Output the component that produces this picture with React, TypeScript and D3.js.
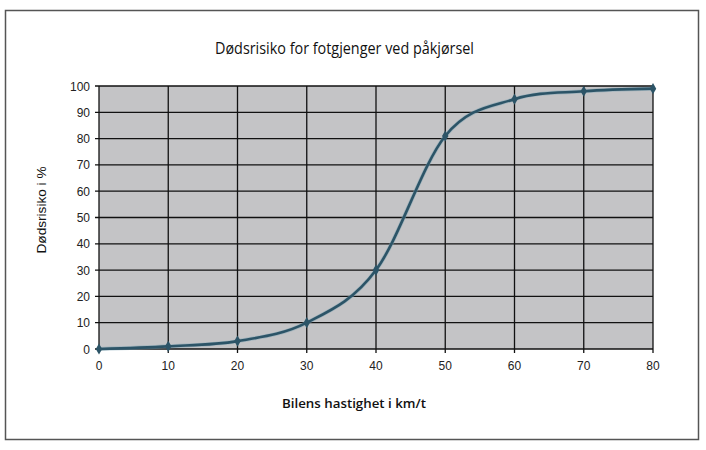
import React from "react";
import * as d3 from "d3";

const speeds = [0, 10, 20, 30, 40, 50, 60, 70, 80];
const risk = [0, 1, 3, 10, 30, 81, 95, 98, 99];
const xTicks = [0, 10, 20, 30, 40, 50, 60, 70, 80];
const yTicks = [0, 10, 20, 30, 40, 50, 60, 70, 80, 90, 100];
const title = "Dødsrisiko for fotgjenger ved påkjørsel";
const xTitle = "Bilens hastighet i km/t";
const yTitle = "Dødsrisiko i %";

export default function App() {
  const W = 706, H = 450;
  const left = 99, right = 653, top = 86, bottom = 349;
  const x = d3.scaleLinear().domain([0, 80]).range([left, right]);
  const y = d3.scaleLinear().domain([0, 100]).range([bottom, top]);
  const line = d3
    .line<number>()
    .x((_, i) => x(speeds[i]))
    .y((d) => y(d))
    .curve(d3.curveCardinal.tension(0));
  const lineColor = "#2c5467";
  const diamond = d3.symbol().type(d3.symbolDiamond).size(36)();
  const font = "'Liberation Sans', Arial, sans-serif";
  return (
    <svg
      width={W}
      height={H}
      style={{ position: "absolute", left: 0, top: 0, background: "#fff" }}
    >
      <rect x={0} y={0} width={W} height={H} fill="#fff" />
      <rect x={5.5} y={10.5} width={693} height={429} fill="none" stroke="#555" strokeWidth={1.5} />
      <text
        x={344.5}
        y={54}
        textAnchor="middle"
        fontFamily="'Liberation Sans Narrow', 'Open Sans', sans-serif"
        fontSize={16}
        fill="#111"
        textLength={259}
        lengthAdjust="spacingAndGlyphs"
      >
        {title}
      </text>
      <rect x={left} y={top} width={right - left} height={bottom - top} fill="#c4c4c6" />
      {yTicks.map((t) => (
        <line key={"gy" + t} x1={left - 4} x2={right} y1={y(t)} y2={y(t)} stroke="#111" strokeWidth={1.3} />
      ))}
      {xTicks.map((t) => (
        <line key={"gx" + t} x1={x(t)} x2={x(t)} y1={top} y2={bottom + 4} stroke="#111" strokeWidth={1.3} />
      ))}
      {yTicks.map((t) => (
        <text key={"ly" + t} x={90} y={y(t) + 4.5} textAnchor="end" fontFamily={font} fontSize={12} fill="#222">
          {t}
        </text>
      ))}
      {xTicks.map((t) => (
        <text key={"lx" + t} x={x(t)} y={370} textAnchor="middle" fontFamily={font} fontSize={12} fill="#222">
          {t}
        </text>
      ))}
      <path d={line(risk) || ""} fill="none" stroke="#7fa6b5" strokeWidth={4} strokeOpacity={0.5} />
      <path d={line(risk) || ""} fill="none" stroke={lineColor} strokeWidth={2.6} />
      {risk.map((v, i) => (
        <path key={"m" + i} d={diamond || ""} transform={`translate(${x(speeds[i])},${y(v)})`} fill={lineColor} />
      ))}
      <text
        x={354}
        y={408}
        textAnchor="middle"
        fontFamily="'Open Sans', sans-serif"
        fontWeight={600}
        fontSize={13}
        fill="#111"
        textLength={144}
        lengthAdjust="spacingAndGlyphs"
      >
        {xTitle}
      </text>
      <text
        transform="translate(46,210) rotate(-90)"
        textAnchor="middle"
        fontFamily={font}
        fontSize={13}
        fill="#111"
        textLength={87}
        lengthAdjust="spacingAndGlyphs"
      >
        {yTitle}
      </text>
    </svg>
  );
}
